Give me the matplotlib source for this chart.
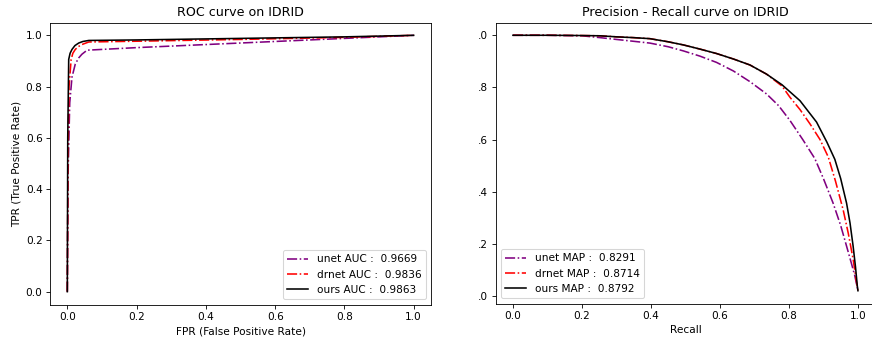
import matplotlib
matplotlib.use("Agg")
import matplotlib.pyplot as plt

# ROC data (FPR, TPR)
unet_fpr = [0.0, 0.002, 0.007, 0.0135, 0.023, 0.033, 0.042, 0.057, 0.2, 0.4, 0.6, 0.8, 1.0]
unet_tpr = [0.0, 0.45, 0.737, 0.837, 0.888, 0.912, 0.926, 0.942, 0.952, 0.964, 0.976, 0.988, 1.0]
drnet_fpr = [0.0, 0.002, 0.005, 0.011, 0.016, 0.023, 0.032, 0.042, 0.062, 0.2, 0.5, 0.8, 1.0]
drnet_tpr = [0.0, 0.55, 0.80, 0.906, 0.930, 0.945, 0.956, 0.964, 0.974, 0.977, 0.984, 0.992, 1.0]
ours_fpr = [0.0, 0.0012, 0.004, 0.008, 0.0135, 0.022, 0.033, 0.045, 0.062, 0.2, 0.5, 0.8, 1.0]
ours_tpr = [0.0, 0.60, 0.906, 0.930, 0.945, 0.960, 0.970, 0.976, 0.980, 0.982, 0.988, 0.994, 1.0]

# PR data (recall, precision)
unet_rec = [0.0, 0.1, 0.2, 0.252, 0.3, 0.349, 0.397, 0.45, 0.494, 0.542, 0.59, 0.639, 0.687,
            0.735, 0.77, 0.803, 0.84, 0.875, 0.9, 0.928, 0.95, 0.967, 0.98, 0.991, 1.0]
unet_prec = [1.0, 1.0, 0.998, 0.991, 0.984, 0.977, 0.970, 0.956, 0.940, 0.920, 0.896, 0.863, 0.822,
             0.775, 0.73, 0.673, 0.60, 0.527, 0.45, 0.356, 0.27, 0.191, 0.13, 0.077, 0.02]
drnet_rec = [0.0, 0.1, 0.2, 0.252, 0.3, 0.349, 0.397, 0.45, 0.494, 0.542, 0.59, 0.639, 0.687,
             0.735, 0.78, 0.803, 0.832, 0.861, 0.89, 0.914, 0.935, 0.957, 0.972, 0.986, 0.995, 1.0]
drnet_prec = [1.0, 1.0, 0.999, 0.998, 0.994, 0.991, 0.987, 0.975, 0.963, 0.947, 0.93, 0.909, 0.886,
              0.851, 0.805, 0.762, 0.715, 0.660, 0.60, 0.533, 0.44, 0.331, 0.24, 0.141, 0.06, 0.02]
ours_rec = [0.0, 0.1, 0.2, 0.252, 0.3, 0.349, 0.397, 0.45, 0.494, 0.542, 0.59, 0.639, 0.687,
            0.735, 0.78, 0.832, 0.88, 0.91, 0.933, 0.95, 0.967, 0.977, 0.986, 0.993, 0.998, 1.0]
ours_prec = [1.0, 1.0, 0.999, 0.998, 0.994, 0.991, 0.987, 0.975, 0.963, 0.947, 0.93, 0.909, 0.886,
             0.851, 0.81, 0.749, 0.667, 0.59, 0.524, 0.45, 0.356, 0.28, 0.191, 0.11, 0.04, 0.02]

roc_labels = ["unet AUC :  0.9669", "drnet AUC :  0.9836", "ours AUC :  0.9863"]
pr_labels = ["unet MAP :  0.8291", "drnet MAP :  0.8714", "ours MAP :  0.8792"]
pr_ytick_labels = [".0", ".2", ".4", ".6", ".8", ".0"]
pr_yticks = [0.0, 0.2, 0.4, 0.6, 0.8, 1.0]

DPI = 76
fig = plt.figure(figsize=(872 / DPI, 343 / DPI), dpi=DPI)
ax1 = fig.add_axes([50 / 872, 38.5 / 343, 381 / 872, 282 / 343])
ax2 = fig.add_axes([495.7 / 872, 39.5 / 343, 379.5 / 872, 281 / 343])

ax1.plot(unet_fpr, unet_tpr, color="purple", linestyle="-.", label=roc_labels[0])
ax1.plot(drnet_fpr, drnet_tpr, color="red", linestyle="-.", label=roc_labels[1])
ax1.plot(ours_fpr, ours_tpr, color="black", linestyle="-", label=roc_labels[2])
ax1.set_title("ROC curve on IDRID")
ax1.set_xlabel("FPR (False Positive Rate)")
ax1.set_ylabel("TPR (True Positive Rate)")
ax1.legend(loc="lower right")

ax2.plot(unet_rec, unet_prec, color="purple", linestyle="-.", label=pr_labels[0])
ax2.plot(drnet_rec, drnet_prec, color="red", linestyle="-.", label=pr_labels[1])
ax2.plot(ours_rec, ours_prec, color="black", linestyle="-", label=pr_labels[2])
ax2.set_title("Precision - Recall curve on IDRID")
ax2.set_xlabel("Recall")
ax2.set_yticks(pr_yticks)
ax2.set_yticklabels(pr_ytick_labels)
ax2.legend(loc="lower left")

fig.savefig("out.png", dpi=DPI)
